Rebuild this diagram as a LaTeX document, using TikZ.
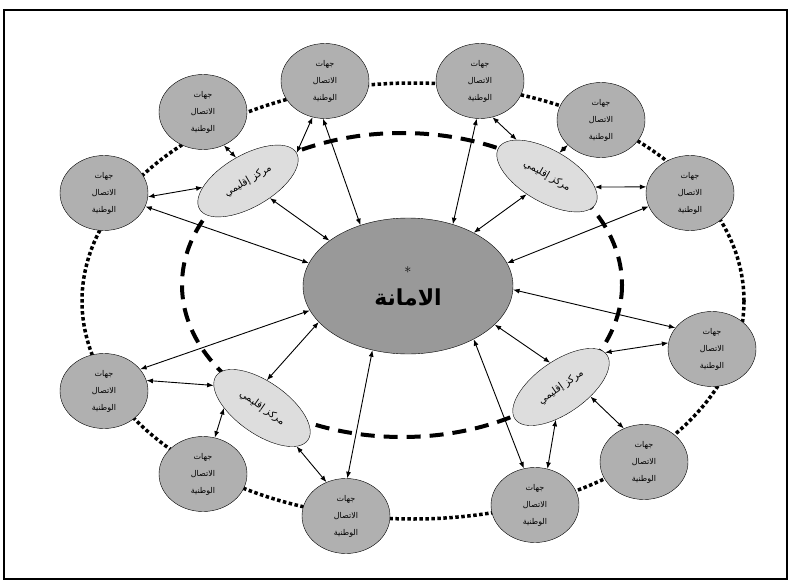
\documentclass[tikz,border=0pt]{standalone}
\usepackage{fontspec}
\usetikzlibrary{shapes.geometric,arrows.meta}
\newfontfamily\arabicfont[Script=Arabic]{DejaVu Sans}
\TeXXeTstate=1
\newcommand{\artext}[1]{{\arabicfont\beginR #1\endR}}
\newcommand{\jihatext}{\artext{جهات}\\\artext{الاتصال}\\\artext{الوطنية}}
\definecolor{jihagray}{HTML}{B0B0B0}
\definecolor{amanagray}{HTML}{999999}
\definecolor{markazgray}{HTML}{DDDDDD}

\begin{document}
\begin{tikzpicture}[
  x=1pt, y=-1pt,
  >={Latex[length=6.5pt,width=5pt]},
  jiha/.style={draw, ellipse, fill=jihagray, minimum width=88pt, minimum height=75pt,
    inner sep=0pt, align=center, font=\fontsize{8}{17}\selectfont},
  markaz/.style={draw, ellipse, fill=markazgray, minimum width=112pt, minimum height=52pt,
    inner sep=0pt, font=\fontsize{10}{12}\selectfont},
  arr/.style={<->, line width=0.9pt},
]
\useasboundingbox (0,0) rectangle (789,583);

\draw[line width=1.5pt] (4,10) rectangle (787,579);

% rings
\draw[line width=3.5pt, dash pattern=on 3.5pt off 2.5pt]
  (413,301) ellipse [x radius=331, y radius=218];
\draw[line width=4pt, dash pattern=on 14pt off 9pt]
  (402,285) ellipse [x radius=220, y radius=152];

% national contact points
\foreach \i/\x/\y in {1/104/193, 2/203/112, 3/325/81, 4/480/81, 5/601/120, 6/690/193,
                      7/712/349, 8/644/462, 9/535/505, 10/346/516, 11/203/474, 12/104/391} {
  \node (jiha\i) [jiha] at (\x,\y) {\jihatext};
}

% regional centres
\foreach \i/\x/\y/\r in {1/248/181/30, 2/547/176/-30, 3/561/387/35, 4/262/408/-35} {
  \node (markaz\i) [markaz, rotate=\r] at (\x,\y) {\artext{مركز إقليمي}};
}

\node (amana) [draw, ellipse, fill=amanagray, minimum width=210pt, minimum height=136pt,
  align=center] at (408,286)
  {\Large *\\[10pt]{\fontsize{22}{26}\selectfont\bfseries\artext{الامانة}}};

\foreach \a/\b in {jiha1.-5/markaz1.158, jiha1.-18/amana.167, jiha2.-58/markaz1.87,
    jiha3.-109/markaz1.0, jiha3.-93/amana.128, markaz1.-68/amana.150,
    jiha4.-95/amana.54, jiha4.-71/markaz2.160, jiha5.-143/markaz2.92,
    markaz2.17/jiha6.172, markaz2.-108/amana.39, amana.13/jiha6.198,
    amana.-2/jiha7.150, amana.-24/markaz3.79, markaz3.3/jiha7.172,
    markaz3.-53/jiha8.121, markaz3.-134/jiha9.71, amana.-39/jiha9.107,
    amana.194/jiha12.31, jiha12.14/markaz4.190, markaz4.115/amana.202,
    markaz4.215/jiha11.72, markaz4.-13/jiha10.120, amana.-119/jiha10.88} {
  \draw[arr] (\a) -- (\b);
}

\end{tikzpicture}
\end{document}
